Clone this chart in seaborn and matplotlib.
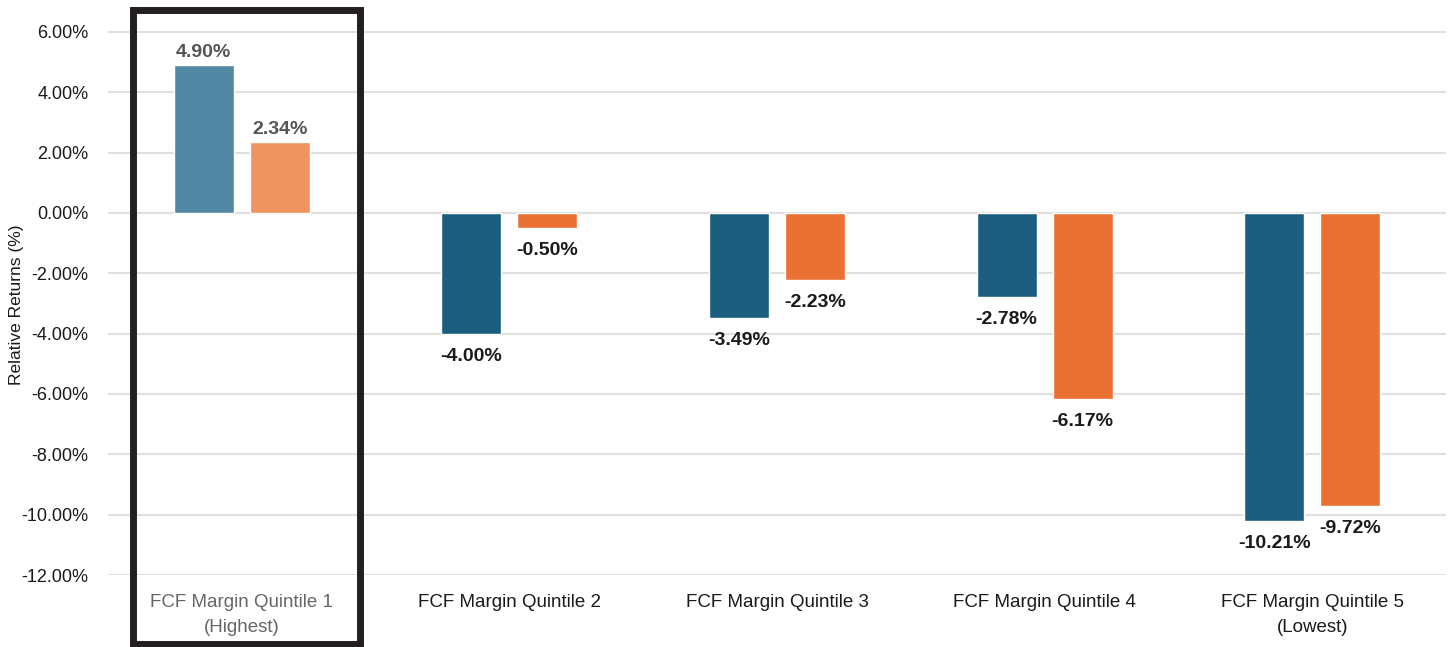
import numpy as np
import matplotlib.pyplot as plt
import seaborn as sns
import pandas as pd
from matplotlib.patches import Rectangle

# chart values
categories = ["FCF Margin Quintile 1\n(Highest)", "FCF Margin Quintile 2", "FCF Margin Quintile 3",
              "FCF Margin Quintile 4", "FCF Margin Quintile 5\n(Lowest)"]
series_names = ["Series A", "Series B"]
series_a = [4.90, -4.00, -3.49, -2.78, -10.21]
series_b = [2.34, -0.50, -2.23, -6.17, -9.72]
y_ticks = [6, 4, 2, 0, -2, -4, -6, -8, -10, -12]

df = pd.DataFrame({
    "Category": categories * 2,
    "Series": [series_names[0]] * 5 + [series_names[1]] * 5,
    "Value": series_a + series_b,
})

sns.set_theme(style="white")
plt.rcParams["font.family"] = ["Liberation Sans", "DejaVu Sans"]

fig = plt.figure(figsize=(14.51, 6.47), dpi=100)
ax = fig.add_axes([108 / 1451, 1 - 575 / 647, (1446 - 108) / 1451, (575 - 0) / 647])

dark = ["#1b5e7e", "#ea7033"]
light = ["#5288a3", "#f0955f"]
sns.barplot(data=df, x="Category", y="Value", hue="Series", palette=dark,
            width=0.568, gap=0.21, ax=ax, legend=False, saturation=1)

# lighten the highlighted group
for cont, lc in zip(ax.containers, light):
    cont.patches[0].set_facecolor(lc)
    for i, (p, v) in enumerate(zip(cont.patches, cont.datavalues)):
        col = "#555555" if i == 0 else "#1a1a1a"
        off = 3 if v >= 0 else -10
        ax.annotate(f"{v:.2f}%", (p.get_x() + p.get_width() / 2, v), xytext=(0, off),
                    textcoords="offset points", ha="center", va="bottom" if v >= 0 else "top",
                    fontsize=14, fontweight="bold", color=col)

ax.set_ylim(-12, 7.06)
ax.set_xlim(-0.5, 4.5)
ax.set_yticks(y_ticks)
ax.set_yticklabels([f"{t:.2f}%" for t in y_ticks], fontsize=13, color="#1a1a1a")
ax.tick_params(axis="y", length=0, pad=14)
ax.tick_params(axis="x", length=0, pad=14)
for lbl in ax.get_xticklabels():
    lbl.set_fontsize(13.5)
    lbl.set_color("#1a1a1a")
    lbl.set_linespacing(1.55)
ax.get_xticklabels()[0].set_color("#666666")
ax.yaxis.grid(True, color="#e0e0e0", linewidth=1.5)
ax.set_axisbelow(True)
sns.despine(ax=ax, left=True, bottom=True)
ax.set_xlabel("")
ax.set_ylabel("Relative Returns (%)", fontsize=12.5, color="#1a1a1a")
ax.yaxis.set_label_coords(-0.063, 0.47)

# highlight box around the first quintile
fig.patches.append(Rectangle((133 / 1451, 3 / 647), (360 - 133) / 1451, (637 - 3) / 647,
                             transform=fig.transFigure, fill=False, edgecolor="#231f20",
                             linewidth=5, zorder=5))

plt.savefig("out.png", dpi=100)
